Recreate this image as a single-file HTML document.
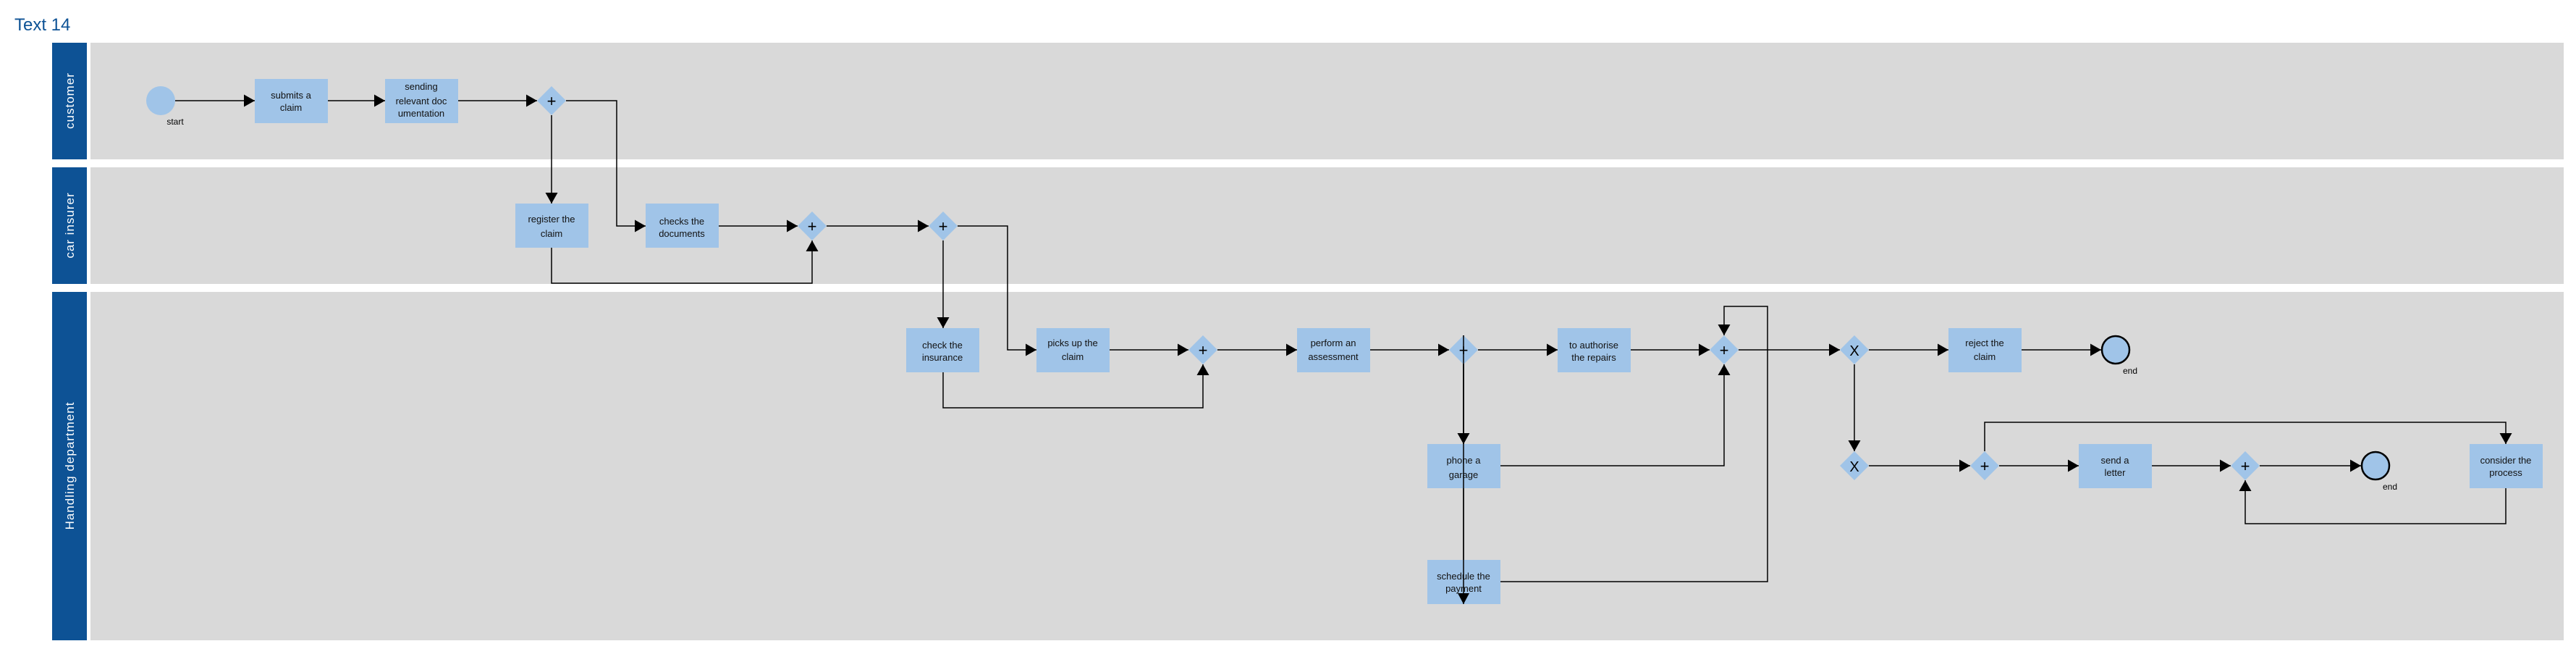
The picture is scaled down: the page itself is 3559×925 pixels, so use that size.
<!DOCTYPE html>
<html><head><meta charset="utf-8"><style>
html,body{margin:0;padding:0;background:#fff;}
svg{display:block;font-family:"Liberation Sans",sans-serif;}
.b{fill:#a0c4e8;}
.t{font-size:13px;fill:#111;text-anchor:middle;}
.l{stroke:#000;stroke-width:1.5;fill:none;}
.lab{font-size:17px;fill:#fff;text-anchor:middle;letter-spacing:1px;}
</style></head><body>
<svg width="3559" height="925" viewBox="0 0 3559 925">
<defs>
<marker id="a" markerUnits="userSpaceOnUse" markerWidth="16" markerHeight="18" refX="15" refY="8.5" orient="auto"><path d="M0,0 L15,8.5 L0,17 z" fill="#000"/></marker>
</defs>
<text x="20" y="42" font-size="24" fill="#0d5295">Text 14</text>
<rect x="72" y="59" width="48" height="161" fill="#0d5295"/>
<rect x="125" y="59" width="3417" height="161" fill="#d9d9d9"/>
<rect x="72" y="231" width="48" height="161" fill="#0d5295"/>
<rect x="125" y="231" width="3417" height="161" fill="#d9d9d9"/>
<rect x="72" y="403" width="48" height="481" fill="#0d5295"/>
<rect x="125" y="403" width="3417" height="481" fill="#d9d9d9"/>
<text class="lab" transform="translate(102,139) rotate(-90)">customer</text>
<text class="lab" transform="translate(102,311) rotate(-90)">car insurer</text>
<text class="lab" transform="translate(102,643) rotate(-90)">Handling department</text>

<g class="l" marker-end="url(#a)">
<path d="M242,139H352"/><path d="M453,139H532"/><path d="M633,139H742"/>
<path d="M762,159V281"/><path d="M782,139H852V312H892"/><path d="M993,312H1102"/>
<path d="M762,342V391H1122V332"/><path d="M1142,312H1283"/><path d="M1303,332V453"/>
<path d="M1323,312H1392V483H1432"/><path d="M1533,483H1642"/><path d="M1303,514V563H1662V503"/>
<path d="M1682,483H1792"/><path d="M1893,483H2002"/><path d="M2042,483H2152"/>
<path d="M2022,503V613"/><path d="M2022,463V834"/><path d="M2253,483H2362"/>
<path d="M2073,643H2382V503"/><path d="M2073,803H2442V423H2382V463"/>
<path d="M2402,483H2542"/><path d="M2582,483H2692"/><path d="M2792,483H2903"/>
<path d="M2562,503V623"/><path d="M2582,643H2722"/><path d="M2762,643H2872"/>
<path d="M2742,623V583H3462V613"/><path d="M2973,643H3082"/><path d="M3122,643H3262"/>
<path d="M3462,674V723H3102V663"/>
</g>

<circle cx="222" cy="139" r="20" class="b"/>
<text x="242" y="172" font-size="12" text-anchor="middle">start</text>

<g>
<rect class="b" x="352" y="109" width="101" height="61"/>
<text class="t" x="402" y="136">submits a</text><text class="t" x="402" y="153">claim</text>
<rect class="b" x="532" y="109" width="101" height="61"/>
<text class="t" x="582" y="124">sending</text><text class="t" x="582" y="144">relevant doc</text><text class="t" x="582" y="161">umentation</text>
<rect class="b" x="712" y="281" width="101" height="61"/>
<text class="t" x="762" y="307">register the</text><text class="t" x="762" y="327">claim</text>
<rect class="b" x="892" y="281" width="101" height="61"/>
<text class="t" x="942" y="310">checks the</text><text class="t" x="942" y="327">documents</text>
<rect class="b" x="1252" y="453" width="101" height="61"/>
<text class="t" x="1302" y="481">check the</text><text class="t" x="1302" y="498">insurance</text>
<rect class="b" x="1432" y="453" width="101" height="61"/>
<text class="t" x="1482" y="478">picks up the</text><text class="t" x="1482" y="497">claim</text>
<rect class="b" x="1792" y="453" width="101" height="61"/>
<text class="t" x="1842" y="478">perform an</text><text class="t" x="1842" y="497">assessment</text>
<rect class="b" x="2152" y="453" width="101" height="61"/>
<text class="t" x="2202" y="481">to authorise</text><text class="t" x="2202" y="498">the repairs</text>
<rect class="b" x="1972" y="613" width="101" height="61"/>
<text class="t" x="2022" y="640">phone a</text><text class="t" x="2022" y="660">garage</text>
<rect class="b" x="1972" y="773" width="101" height="61"/>
<text class="t" x="2022" y="800">schedule the</text><text class="t" x="2022" y="817">payment</text>
<rect class="b" x="2692" y="453" width="101" height="61"/>
<text class="t" x="2742" y="478">reject the</text><text class="t" x="2742" y="497">claim</text>
<rect class="b" x="2872" y="613" width="101" height="61"/>
<text class="t" x="2922" y="640">send a</text><text class="t" x="2922" y="657">letter</text>
<rect class="b" x="3412" y="613" width="101" height="61"/>
<text class="t" x="3462" y="640">consider the</text><text class="t" x="3462" y="657">process</text>
</g>
<path class="l" d="M2022,463V834"/>
<path d="M2014,598L2022,613L2030,598z M2014,819L2022,834L2030,819z"/>

<g font-size="22" text-anchor="middle">
<path class="b" d="M762,119l20,20l-20,20l-20,-20z"/><text x="762" y="147">+</text>
<path class="b" d="M1122,292l20,20l-20,20l-20,-20z"/><text x="1122" y="320">+</text>
<path class="b" d="M1303,292l20,20l-20,20l-20,-20z"/><text x="1303" y="320">+</text>
<path class="b" d="M1662,463l20,20l-20,20l-20,-20z"/><text x="1662" y="491">+</text>
<path class="b" d="M2022,463l20,20l-20,20l-20,-20z"/><text x="2022" y="491">+</text>
<path class="b" d="M2382,463l20,20l-20,20l-20,-20z"/><text x="2382" y="491">+</text>
<path class="b" d="M2562,463l20,20l-20,20l-20,-20z"/><text x="2562" y="491" font-size="20">X</text>
<path class="b" d="M2562,623l20,20l-20,20l-20,-20z"/><text x="2562" y="651" font-size="20">X</text>
<path class="b" d="M2742,623l20,20l-20,20l-20,-20z"/><text x="2742" y="651">+</text>
<path class="b" d="M3102,623l20,20l-20,20l-20,-20z"/><text x="3102" y="651">+</text>
</g>
<path class="l" d="M2022,463V503"/>

<circle cx="2923" cy="483" r="19" class="b" stroke="#000" stroke-width="2.5"/>
<text x="2943" y="516" font-size="12" text-anchor="middle">end</text>
<circle cx="3282" cy="643" r="19" class="b" stroke="#000" stroke-width="2.5"/>
<text x="3302" y="676" font-size="12" text-anchor="middle">end</text>
</svg>
</body></html>
